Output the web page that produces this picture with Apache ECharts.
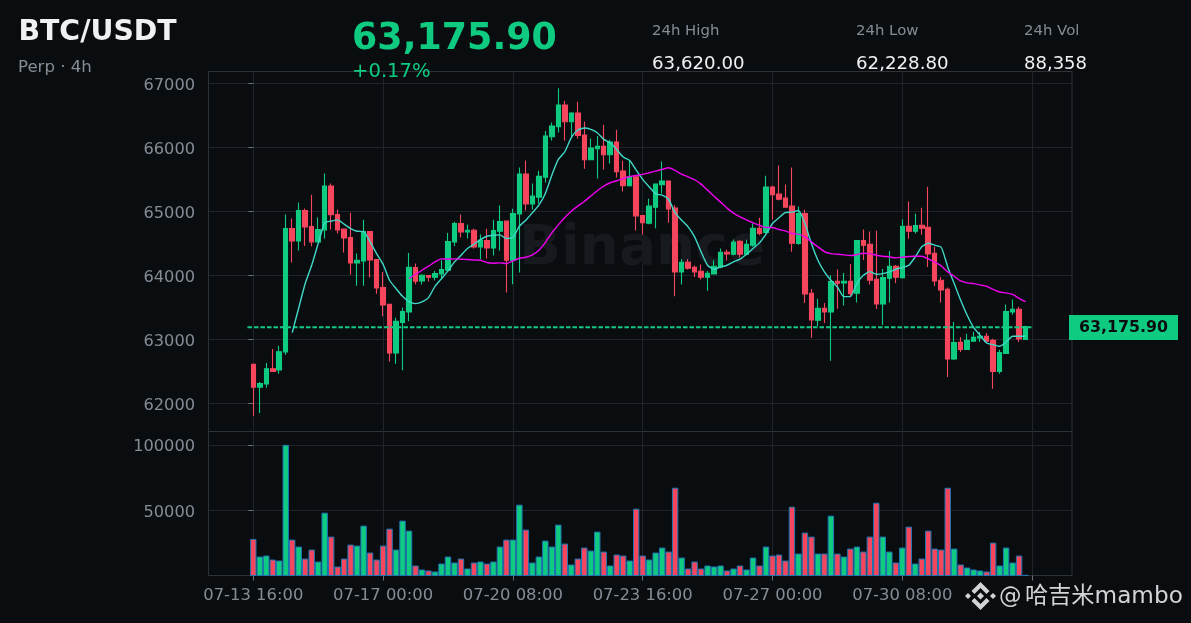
<!DOCTYPE html>
<html><head><meta charset="utf-8">
<style>html,body{margin:0;padding:0;background:#0a0d10}#c{width:1191px;height:623px}</style>
<script src="https://cdn.jsdelivr.net/npm/echarts@6/dist/echarts.min.js"></script>
</head><body><div id="c"></div>
<script>
const opens=[62614,62260,62307,62547,62526,62807,64734,64541,65015,64765,64526,64713,65396,64953,64724,64593,64198,64229,64687,64250,63812,63552,62791,63270,63432,64125,63916,63999,63974,64026,64083,64526,64812,64682,64708,64448,64547,64432,64692,64849,64239,64963,65583,65119,65224,65536,66166,66323,66661,66401,66536,66192,65807,65979,66015,65885,66083,65630,65401,65541,64937,64817,65067,65416,65474,65052,64057,64208,64130,64067,63974,64026,64135,64364,64333,64536,64333,64474,64739,64672,65380,65270,65208,65083,64500,64968,63724,63302,63489,63432,63911,63885,63911,63724,64547,64489,63943,63557,63958,64146,63968,64770,64692,64786,64755,64349,63927,63786,62698,62958,62849,62974,63026,63052,62989,62505,62786,63432,63474,63005];
const closes=[62260,62317,62547,62505,62812,64734,64541,65015,64760,64526,64718,65396,64948,64713,64588,64198,64239,64687,64244,63807,63541,62791,63286,63437,64130,63911,64005,63974,64031,64093,64531,64812,64682,64708,64448,64552,64432,64703,64843,64239,64968,65583,65119,65239,65547,66177,66333,66661,66401,66536,66187,65807,65989,66015,65885,66083,65619,65401,65541,64932,64823,65083,65427,65474,65041,64057,64208,64114,64057,63974,64036,64146,64364,64338,64521,64333,64489,64739,64656,65380,65260,65192,65067,64505,64968,63713,63307,63489,63432,63906,63880,63911,63718,64547,64474,63927,63557,63968,64146,63974,64770,64692,64781,64739,64338,63916,63776,62698,62953,62849,62989,63036,63052,62974,62505,62797,63437,63474,63010,63200];
const lows=[61812,61854,62250,62495,62468,62765,64203,64390,64463,64458,64526,64578,64718,64656,64359,64015,63843,63843,63968,63718,63364,62661,62625,62521,63286,63864,63859,63906,63927,63937,64057,64463,64593,64578,64422,64255,64265,64312,64390,63734,63864,64047,65015,65031,65125,65453,66109,66234,66104,66166,66140,65666,65802,65515,65656,65750,65531,65312,65390,64703,64640,64802,64739,65281,64823,63677,63859,64093,63979,63937,63765,64015,64114,64234,64317,64281,64317,64448,64630,64656,64875,65177,65062,64370,64479,63573,63031,63208,63260,62672,63484,63531,63666,63578,64244,63859,63479,63229,63578,63885,63953,64573,64656,64635,64135,63838,63578,62416,62682,62807,62843,62968,62963,62963,62234,62468,62781,63390,62963,63000];
const highs=[62625,62338,62635,62854,62906,64953,64890,65140,65047,65260,64906,65593,65437,65031,64724,64979,64343,64869,64687,64250,64057,63562,63343,63500,64354,64187,64021,63999,64073,64239,64666,64838,64953,64797,64734,64640,64729,64869,65093,64849,65041,65687,65797,65437,65635,66255,66390,66922,66729,66547,66713,66401,66140,66177,66354,66119,66276,65791,65802,65541,64937,65198,65437,65781,65474,65099,64260,64260,64156,64172,64073,64239,64422,64401,64562,64552,64557,64812,64901,65557,65401,65718,65422,65687,65078,65026,63791,63640,63573,64005,64093,64041,64182,64547,64718,64687,64698,64104,64385,64166,64875,65156,64963,65057,65385,64448,63979,63812,63276,63041,63093,63125,63119,63104,63015,62843,63547,63625,63515,63218];
const volumes=[28537,15155,15912,12882,12125,100000,28032,22730,13640,20457,11367,48485,30305,7580,13640,24245,23487,38637,18185,12882,23487,36360,20457,42425,34850,8337,5307,4550,3792,9852,15155,10610,13640,6065,10610,11367,9852,11367,22730,28032,28032,54545,35607,10610,15155,27275,22730,39395,25002,9095,13640,21972,19700,34092,18942,8337,16670,15912,12125,51515,15912,12882,18185,21972,18942,67422,14397,6065,11367,6065,8337,7580,8337,4550,6065,8337,5307,14397,8337,22730,15912,16670,12125,53030,17427,33335,30305,17427,17427,46212,17427,15155,21215,22730,18942,30305,56060,30305,18942,10610,21972,37880,9852,13640,34850,21215,20457,67422,21215,9095,6822,5307,4550,3792,25757,8337,21972,10610,15912,1267];
const ma7Start=6;
const ma7=[63109,63494,63875,64161,64500,64823,64849,64869,64802,64734,64692,64687,64526,64343,64177,63927,63797,63677,63594,63562,63588,63656,63833,63953,64073,64213,64317,64422,64489,64562,64614,64630,64635,64578,64593,64770,64864,64979,65099,65281,65567,65812,65932,66151,66271,66302,66281,66229,66125,66073,65968,65849,65797,65645,65500,65385,65276,65255,65187,64979,64864,64760,64604,64370,64161,64099,64135,64161,64213,64255,64333,64422,64510,64646,64812,64901,64984,64989,65015,64812,64500,64239,64057,63927,63822,63672,63672,63875,64005,64062,64021,64031,64057,64099,64125,64161,64291,64448,64505,64474,64442,64135,63875,63614,63380,63187,63067,62948,62922,62896,62963,63052,63052,63057];
const ma25Start=24;
const ma25=[63953,64021,64083,64146,64213,64260,64255,64260,64255,64250,64244,64239,64203,64192,64198,64187,64229,64270,64286,64323,64396,64515,64666,64791,64906,65005,65083,65156,65239,65323,65396,65448,65479,65515,65546,65562,65578,65604,65630,65656,65682,65640,65583,65541,65495,65427,65333,65239,65146,65052,64974,64916,64869,64823,64786,64750,64750,64718,64698,64656,64646,64604,64526,64448,64375,64343,64333,64323,64312,64328,64349,64343,64317,64302,64291,64276,64286,64297,64302,64302,64260,64208,64151,64057,63989,63916,63885,63875,63854,63833,63786,63744,63729,63708,63645,63593];
const xTicks=[0,20,40,60,80,100,120];
const xLabels=['07-13 16:00','07-17 00:00','07-20 08:00','07-23 16:00','07-27 00:00','07-30 08:00',''];
const priceTicks=[62000,63000,64000,65000,66000,67000];
const volumeTicks=[50000,100000];
const lastPriceLevel=63192;
const lastPriceSpan=[-0.9,119.9];

const BG='#0a0d10',GRID='#20242a',SPINE='#2d3138',TXT='#868c96',UP='#0ecb81',DOWN='#f6465d';
const font='"DejaVu Sans"';
const idx=opens.map((_,i)=>i);
const XMIN=-6.9,XMAX=126.15;
const G={left:208.5,width:863.5};
const grids=[
 {left:G.left,width:G.width,top:71.5,height:360,show:true,borderColor:SPINE,borderWidth:1,backgroundColor:'transparent'},
 {left:G.left,width:G.width,top:431.5,height:144,show:true,borderColor:SPINE,borderWidth:1,backgroundColor:'transparent'}
];
const xCommon=(gi,lab)=>({type:'value',gridIndex:gi,min:XMIN,max:XMAX,
  axisLine:{show:false},
  axisTick:{show:lab,length:5,lineStyle:{color:'#6a6f78',width:1},customValues:xTicks},
  axisLabel:{show:lab,customValues:xTicks,color:TXT,fontSize:16.4,fontFamily:font,margin:12,hideOverlap:false,
    formatter:v=>xLabels[xTicks.indexOf(v)]??''},
  splitLine:{show:true,lineStyle:{color:GRID,width:1}}});
const yCommon=(gi,min,max,ticks)=>({type:'value',gridIndex:gi,min,max,position:'left',
  axisLine:{show:false},
  axisTick:{show:true,length:5,lineStyle:{color:'#6a6f78',width:1},customValues:ticks},
  axisLabel:{customValues:ticks,margin:13.5,formatter:v=>'{a|'+v+'}',
    rich:{a:{color:TXT,fontSize:16.2,fontFamily:font,padding:[4,0,0,0]}}},
  splitLine:{show:true,lineStyle:{color:GRID,width:1}}});
const chart=echarts.init(document.getElementById('c'),null,{renderer:'canvas'});
const T=(text,x,y,size,fill,weight)=>({type:'text',silent:true,z:20,style:{text,x,y,fill,font:`${weight||'normal'} ${size}px ${font}`,verticalAlign:'middle',align:'left'}});
const poly=(pts)=>({type:'polygon',silent:true,z:20,shape:{points:pts},style:{fill:'#d2d4d7'}});
const dia=(cx,cy,r)=>poly([[cx,cy-r],[cx+r,cy],[cx,cy+r],[cx-r,cy]]);
chart.setOption({
 animation:false,backgroundColor:BG,
 grid:grids,
 xAxis:[xCommon(0,false),xCommon(1,true)],
 yAxis:[yCommon(0,61567,67184,priceTicks),yCommon(1,760,110150,volumeTicks)],
 series:[
  {type:'candlestick',xAxisIndex:0,yAxisIndex:0,z:3,barWidth:5,
   data:idx.map(i=>[i,opens[i],closes[i],lows[i],highs[i]]),
   itemStyle:{color:UP,color0:DOWN,borderColor:UP,borderColor0:DOWN,borderWidth:1.1}},
  {type:'line',xAxisIndex:0,yAxisIndex:0,z:4,symbol:'none',silent:true,
   data:lastPriceSpan.map(x=>[x,lastPriceLevel]),lineStyle:{color:'#15c985',width:2,type:[4.6,1.9]}},
  {type:'line',xAxisIndex:0,yAxisIndex:0,z:5,symbol:'none',silent:true,smooth:0.2,
   data:ma7.map((v,i)=>[i+ma7Start,v]),lineStyle:{color:'#40d8c8',width:1.4}},
  {type:'line',xAxisIndex:0,yAxisIndex:0,z:5,symbol:'none',silent:true,smooth:0.2,
   data:ma25.map((v,i)=>[i+ma25Start,v]),lineStyle:{color:'#f000f0',width:1.4}},
  {type:'bar',xAxisIndex:1,yAxisIndex:1,z:3,barMinWidth:6.4,barWidth:6.4,barGap:0,
   data:idx.map(i=>({value:[i,volumes[i]],itemStyle:{color:closes[i]>=opens[i]?UP:DOWN,borderColor:'#1f77b4',borderWidth:1}}))}
 ],
 graphic:{elements:[
  {type:'text',silent:true,z:1,style:{text:'Binance',x:519,y:250,fill:'#16191d',font:`bold 55px ${font}`,verticalAlign:'middle'}},
  T('BTC/USDT',18.5,33,28.3,'#f0f1f3','bold'),
  T('Perp · 4h',18,67.5,16.6,TXT),
  T('63,175.90',352,40,36.4,UP,'bold'),
  T('+0.17%',352,71.5,19.6,UP),
  T('24h High',652,31,14.9,TXT),T('63,620.00',652,64,18.2,'#f0f1f3'),
  T('24h Low',856,31,14.9,TXT),T('62,228.80',856,64,18.2,'#f0f1f3'),
  T('24h Vol',1024,31,14.9,TXT),T('88,358',1024,64,18,'#f0f1f3'),
  {type:'rect',silent:true,z:19,shape:{x:1069,y:315,width:109,height:25},style:{fill:UP}},
  T('63,175.90',1079,327.5,15.8,'#0a0d10','bold'),
  dia(968,596,3),dia(993,596,3),dia(980.5,596,3.5),
  poly([[980.5,582],[989.5,591],[986.5,594],[980.5,588],[974.5,594],[971.5,591]]),
  poly([[980.5,610],[989.5,601],[986.5,598],[980.5,604],[974.5,598],[971.5,601]]),
  {type:'text',silent:true,z:20,style:{text:'@',x:999,y:597,fill:'#d2d4d7',font:`22.5px "DejaVu Sans"`,verticalAlign:'middle'}},
  {type:'text',silent:true,z:20,style:{text:'哈吉米mambo',x:1025,y:597,fill:'#d2d4d7',font:`23.2px "DejaVu Sans","Noto Sans CJK SC"`,verticalAlign:'middle'}}
 ]}
});
</script></body></html>
